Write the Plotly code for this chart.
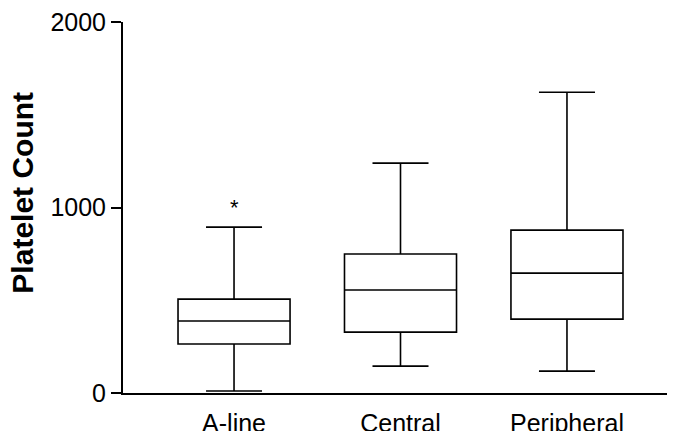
import plotly.graph_objects as go

categories = ["A-line", "Central", "Peripheral"]
lower_whisker = [11, 145, 118]
q1_values = [264, 328, 398]
median_values = [388, 555, 646]
q3_values = [506, 749, 878]
upper_whisker = [894, 1239, 1621]
star_value = 1000
y_ticks = [0, 1000, 2000]

fig = go.Figure()
fig.add_trace(go.Box(
    x=categories,
    q1=q1_values,
    median=median_values,
    q3=q3_values,
    lowerfence=lower_whisker,
    upperfence=upper_whisker,
    fillcolor="white",
    line=dict(color="black", width=1.6),
    width=0.673,
    whiskerwidth=0.5,
    boxpoints=False,
    showlegend=False,
    hoverinfo="skip",
))

fig.add_annotation(x=categories[0], y=star_value, text="*", showarrow=False,
                   font=dict(family="Liberation Sans, Arial", size=22, color="black"),
                   yanchor="middle")

fig.add_annotation(xref="paper", yref="paper", x=-0.1786, y=0.54,
                   text="<b>Platelet Count</b>", textangle=-90, showarrow=False,
                   xanchor="center", yanchor="middle",
                   font=dict(family="Liberation Sans, Arial", size=30, color="black"))

fig.update_layout(
    width=675, height=431,
    margin=dict(l=115, r=0, t=14, b=46),
    paper_bgcolor="white", plot_bgcolor="white",
    font=dict(family="Liberation Sans, Arial", color="black"),
    xaxis=dict(
        type="category",
        range=[-0.667, 2.697],
        automargin=False,
        showline=True, linecolor="black", linewidth=2,
        ticks="", showgrid=False, zeroline=False,
        ticklabelstandoff=7,
        ticklabeloverflow="allow",
        tickfont=dict(size=25, color="black"),
    ),
    yaxis=dict(
        range=[0, 2000],
        automargin=False,
        tickvals=y_ticks,
        ticktext=[str(v) for v in y_ticks],
        showline=True, linecolor="black", linewidth=2,
        ticks="outside", ticklen=10, tickwidth=1.5, tickcolor="black",
        showgrid=False, zeroline=False,
        ticklabeloverflow="allow",
        tickfont=dict(size=25, color="black"),
    ),
)

fig.write_html("out.html")
